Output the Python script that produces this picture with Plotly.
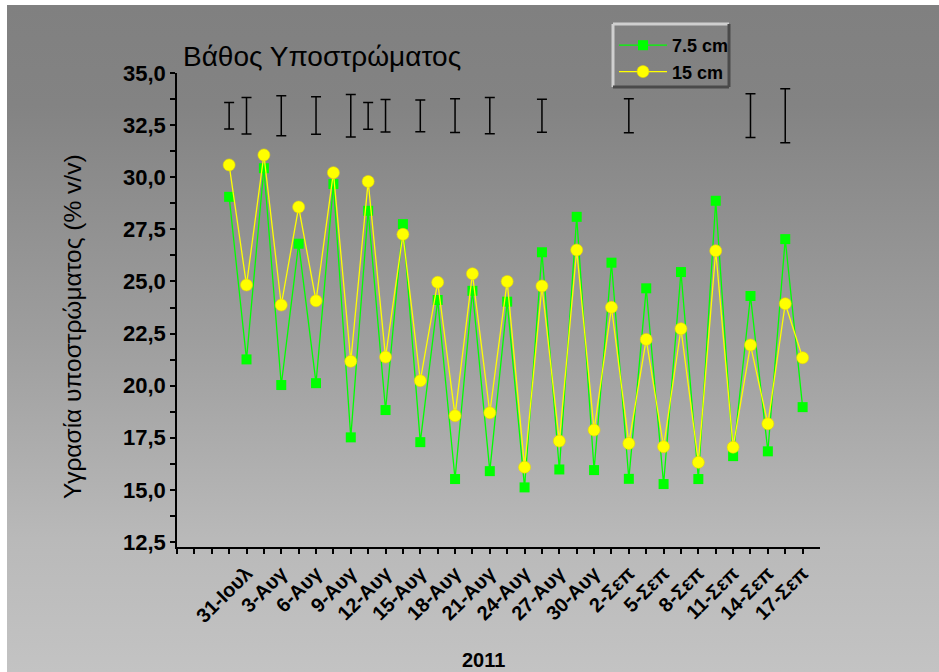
import base64
import plotly.graph_objects as go

# ---------------- data ----------------
point_index = [0, 1, 2, 3, 4, 5, 6, 7, 8, 9, 10, 11, 12, 13, 14, 15, 16,
               17, 18, 19, 20, 21, 22, 23, 24, 25, 26, 27, 28, 29, 30, 31, 32, 33]
moist_7_5cm = [29.06, 21.26, 30.43, 20.03, 26.81, 20.12, 29.67, 17.52, 28.39, 18.83,
               27.75, 17.29, 24.11, 15.52, 24.55, 15.90, 24.03, 15.12, 26.40, 15.98,
               28.10, 15.95, 25.90, 15.53, 24.67, 15.28, 25.45, 15.52, 28.87, 16.62,
               24.30, 16.85, 27.03, 18.97]
moist_15cm = [30.59, 24.83, 31.07, 23.87, 28.57, 24.07, 30.22, 21.17, 29.80, 21.37,
              27.26, 20.24, 24.96, 18.56, 25.37, 18.70, 25.00, 16.09, 24.78, 17.34,
              26.51, 17.87, 23.76, 17.23, 22.22, 17.07, 22.73, 16.32, 26.47, 17.05,
              21.95, 18.17, 23.93, 21.34]

errbar_index = [0, 1, 3, 5, 7, 8, 9, 11, 13, 15, 18, 23, 30, 32]
errbar_center = [32.95, 32.95, 32.95, 32.96, 32.95, 32.94, 32.95, 32.94, 32.95, 32.96,
                 32.95, 32.95, 32.95, 32.95]
errbar_half = [0.64, 0.88, 0.96, 0.90, 1.02, 0.64, 0.78, 0.76, 0.81, 0.87,
               0.79, 0.82, 1.05, 1.30]

date_label_index = [1, 3, 5, 7, 9, 11, 13, 15, 17, 19, 21, 23, 25, 27, 29, 31, 33]
date_labels = ["31-Ιουλ", "3-Αυγ", "6-Αυγ", "9-Αυγ", "12-Αυγ", "15-Αυγ", "18-Αυγ",
               "21-Αυγ", "24-Αυγ", "27-Αυγ", "30-Αυγ", "2-Σεπ", "5-Σεπ", "8-Σεπ",
               "11-Σεπ", "14-Σεπ", "17-Σεπ"]
x_tick_positions = list(range(-3, 34))

y_tick_values = [12.5, 13.75, 15.0, 16.25, 17.5, 18.75, 20.0, 21.25, 22.5, 23.75,
                 25.0, 26.25, 27.5, 28.75, 30.0, 31.25, 32.5, 33.75, 35.0]
y_major_labels = {12.5: "12,5", 15.0: "15,0", 17.5: "17,5", 20.0: "20,0", 22.5: "22,5",
                  25.0: "25,0", 27.5: "27,5", 30.0: "30,0", 32.5: "32,5", 35.0: "35,0"}

series_names = ["7.5 cm", "15 cm"]
title_text = "Βάθος Υποστρώματος"
y_title_text = "Υγρασία υποστρώματος (% v/v)"
x_title_text = "2011"

# ---------------- layout geometry ----------------
W, H = 939, 672
L, R, T, B = 177, 939 - 820, 73, 672 - 547
PW, PH = W - L - R, H - T - B
FONT = "Liberation Sans, Arial, sans-serif"


def px_x(px):
    return (px - L) / PW


def px_y(py):
    return (H - B - py) / PH


label_map = dict(zip(date_label_index, date_labels))
x_ticktext = [label_map.get(v, "") for v in x_tick_positions]
y_ticktext = [y_major_labels.get(v, "") for v in y_tick_values]

fig = go.Figure()

fig.add_trace(go.Scatter(
    x=point_index, y=moist_7_5cm, name=series_names[0], mode="lines+markers",
    line=dict(color="#00ff00", width=1.3),
    marker=dict(symbol="square", size=10, color="#00ff00", line=dict(width=0)),
    legendgroup="a"))
fig.add_trace(go.Scatter(
    x=point_index, y=moist_15cm, name=series_names[1], mode="lines+markers",
    line=dict(color="#ffff00", width=1.3),
    marker=dict(symbol="circle", size=12, color="#ffff00", line=dict(width=0.6, color="#e6d800")),
    legendgroup="b"))
fig.add_trace(go.Scatter(
    x=errbar_index, y=errbar_center, mode="markers", showlegend=False,
    marker=dict(size=1, color="rgba(0,0,0,0)"),
    error_y=dict(type="data", array=errbar_half, visible=True, color="black",
                 thickness=1.5, width=5)))

# gradient background as an SVG image
svg = ('<svg xmlns="http://www.w3.org/2000/svg" width="932" height="667" '
       'preserveAspectRatio="none"><defs><linearGradient id="g" x1="0" y1="0" x2="0" y2="1">'
       '<stop offset="0" stop-color="#808080"/>'
       '<stop offset="0.15" stop-color="#838383"/>'
       '<stop offset="0.5" stop-color="#9e9e9e"/>'
       '<stop offset="0.8" stop-color="#b9b9b9"/>'
       '<stop offset="1" stop-color="#c3c3c3"/>'
       '</linearGradient></defs><rect x="0" y="0" width="932" height="667" fill="url(#g)"/></svg>')
src = "data:image/svg+xml;base64," + base64.b64encode(svg.encode()).decode()

fig.add_layout_image(dict(
    source=src, xref="paper", yref="paper",
    x=px_x(7), y=px_y(5), sizex=(W - 7) / PW, sizey=(H - 5) / PH,
    xanchor="left", yanchor="top", sizing="stretch", layer="below"))

# legend bevel box
lx0, lx1, ly0, ly1 = 613, 729, 24, 87
shapes = [
    dict(type="line", xref="paper", yref="paper", x0=px_x(lx0), x1=px_x(lx1), y0=px_y(ly0), y1=px_y(ly0),
         line=dict(color="#cfcfcf", width=3)),
    dict(type="line", xref="paper", yref="paper", x0=px_x(lx0), x1=px_x(lx0), y0=px_y(ly0), y1=px_y(ly1),
         line=dict(color="#cfcfcf", width=3)),
    dict(type="line", xref="paper", yref="paper", x0=px_x(lx0), x1=px_x(lx1), y0=px_y(ly1), y1=px_y(ly1),
         line=dict(color="#4a4a4a", width=3)),
    dict(type="line", xref="paper", yref="paper", x0=px_x(lx1), x1=px_x(lx1), y0=px_y(ly0), y1=px_y(ly1),
         line=dict(color="#4a4a4a", width=3)),
]

annotations = [
    dict(text=title_text, xref="paper", yref="paper", x=px_x(181), y=px_y(57),
         xanchor="left", yanchor="middle", showarrow=False,
         font=dict(family=FONT, size=28, color="black")),
    dict(text=y_title_text, xref="paper", yref="paper", x=px_x(72), y=px_y(327),
         xanchor="center", yanchor="middle", showarrow=False, textangle=-90,
         font=dict(family=FONT, size=24.5, color="black")),
    dict(text="<b>" + x_title_text + "</b>", xref="paper", yref="paper", x=px_x(483), y=px_y(660),
         xanchor="center", yanchor="middle", showarrow=False,
         font=dict(family=FONT, size=20, color="black")),
]

fig.update_layout(
    width=W, height=H,
    margin=dict(l=L, r=R, t=T, b=B, pad=0),
    paper_bgcolor="white", plot_bgcolor="rgba(0,0,0,0)",
    font=dict(family=FONT, color="black"),
    showlegend=True,
    legend=dict(x=px_x(614), y=px_y(27), xanchor="left", yanchor="top",
                bgcolor="rgba(0,0,0,0)", borderwidth=0,
                font=dict(family=FONT, size=18, color="black", weight="bold"),
                itemwidth=48, tracegroupgap=6, traceorder="normal"),
    shapes=shapes, annotations=annotations,
    xaxis=dict(range=[-3, 34], showgrid=False, zeroline=False,
               showline=True, linecolor="black", linewidth=1.5,
               tickmode="array", tickvals=x_tick_positions, ticktext=x_ticktext,
               ticks="outside", ticklen=5, tickwidth=1.5, tickcolor="black",
               tickangle=-45, tickfont=dict(family=FONT, size=20, color="black", weight="bold")),
    yaxis=dict(range=[12.26, 35.0], showgrid=False, zeroline=False,
               showline=True, linecolor="black", linewidth=1.5,
               tickmode="array", tickvals=y_tick_values, ticktext=y_ticktext,
               ticks="outside", ticklen=5, tickwidth=1.5, tickcolor="black",
               tickfont=dict(family=FONT, size=22, color="black", weight="bold")),
)

fig.write_html("out.html")
